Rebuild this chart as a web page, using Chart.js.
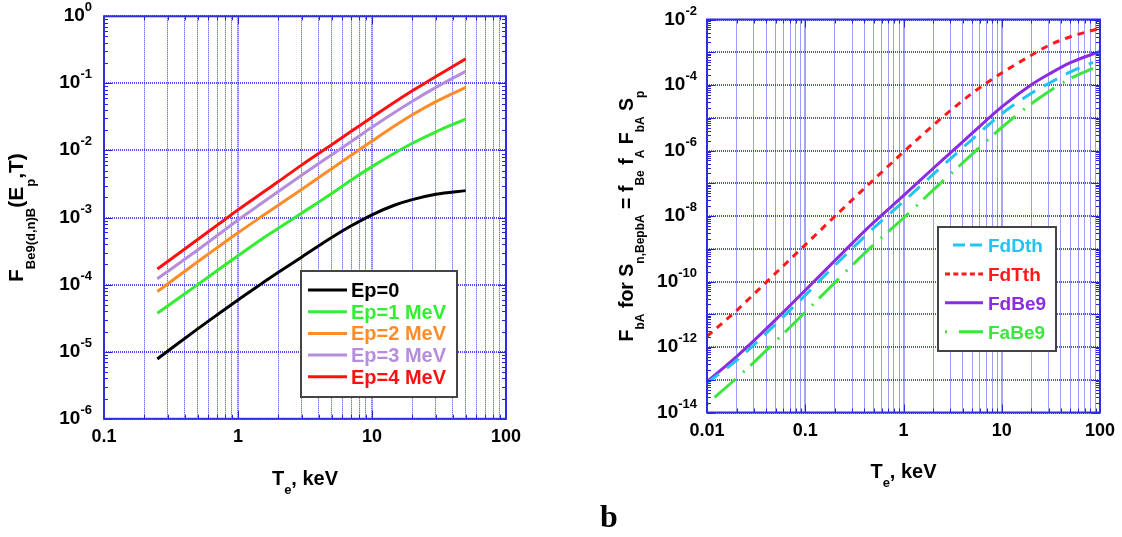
<!DOCTYPE html>
<html><head><meta charset="utf-8">
<script src="https://cdn.jsdelivr.net/npm/chart.js@4.4.1/dist/chart.umd.min.js"></script>
<style>
html,body{margin:0;padding:0;background:#fff;overflow:hidden;width:1122px;height:537px}
#wrapA{position:absolute;left:0;top:0;width:561px;height:537px}
#wrapB{position:absolute;left:561px;top:0;width:561px;height:537px}
</style></head><body>
<div id="wrapA"><canvas id="cA" width="561" height="537"></canvas></div>
<div id="wrapB"><canvas id="cB" width="561" height="537"></canvas></div>
<script>
// ---------- LEFT CHART DATA ----------
const leftTemps = [0.25, 0.3, 0.5, 0.7, 1, 1.5, 2, 3, 5, 7, 10, 15, 20, 30, 50];
const ep0 = [7.8e-6, 1.026e-5, 2.19e-5, 3.56e-5, 5.92e-5, 1.035e-4, 1.53e-4, 2.59e-4, 5.04e-4, 7.53e-4, 1.10e-3, 1.55e-3, 1.85e-3, 2.22e-3, 2.52e-3];
const ep1 = [3.75e-5, 4.85e-5, 1.0e-4, 1.62e-4, 2.69e-4, 4.76e-4, 6.9e-4, 1.17e-3, 2.29e-3, 3.63e-3, 5.74e-3, 9.33e-3, 1.28e-2, 1.9e-2, 2.94e-2];
const ep2 = [7.9e-5, 1.03e-4, 2.19e-4, 3.56e-4, 5.92e-4, 1.035e-3, 1.53e-3, 2.65e-3, 5.35e-3, 8.5e-3, 1.38e-2, 2.37e-2, 3.4e-2, 5.35e-2, 8.7e-2];
const ep3 = [1.22e-4, 1.58e-4, 3.29e-4, 5.4e-4, 9.2e-4, 1.63e-3, 2.44e-3, 4.3e-3, 8.6e-3, 1.36e-2, 2.22e-2, 3.78e-2, 5.42e-2, 8.71e-2, 0.151];
const ep4 = [1.71e-4, 2.23e-4, 4.7e-4, 7.7e-4, 1.3e-3, 2.3e-3, 3.44e-3, 6.1e-3, 1.22e-2, 1.93e-2, 3.13e-2, 5.37e-2, 7.74e-2, 0.127, 0.232];
const leftLabels = ['Ep=0', 'Ep=1 MeV', 'Ep=2 MeV', 'Ep=3 MeV', 'Ep=4 MeV'];
const leftXTickValues = [0.1, 1, 10, 100];
const leftXTickLabels = ['0.1', '1', '10', '100'];
const leftYTickValues = [1, 1e-1, 1e-2, 1e-3, 1e-4, 1e-5, 1e-6];
const leftYTickExps = ['0', '-1', '-2', '-3', '-4', '-5', '-6'];

// ---------- RIGHT CHART DATA ----------
const rightTemps = [0.01, 0.02, 0.03, 0.05, 0.1, 0.2, 0.3, 0.5, 1, 2, 3, 5, 10, 20, 30, 50, 100];
const fdTth = [2.1e-12, 1.3e-11, 4.13e-11, 1.8e-10, 1.32e-9, 9.75e-9, 3.1e-8, 1.31e-7, 9.0e-7, 5.86e-6, 1.65e-5, 5.62e-5, 2.33e-4, 8.1e-4, 1.61e-3, 2.98e-3, 5.37e-3];
const fdBe9 = [8.7e-14, 5.1e-13, 1.56e-12, 6.85e-12, 5.41e-11, 4.33e-10, 1.46e-9, 6.46e-9, 4.17e-8, 2.82e-7, 8.41e-7, 3.39e-6, 2.15e-5, 1.02e-4, 2.12e-4, 4.8e-4, 1.064e-3];
const shortTemps = [0.01, 0.02, 0.03, 0.05, 0.1, 0.2, 0.3, 0.5, 1, 2, 3, 5, 10, 20, 30, 50, 85];
const fdDth = [7.9e-14, 3.9e-13, 1.15e-12, 5.0e-12, 3.8e-11, 3.09e-10, 1.01e-9, 4.37e-9, 2.75e-8, 1.86e-7, 5.56e-7, 2.19e-6, 1.32e-5, 5.61e-5, 1.11e-4, 2.52e-4, 4.9e-4];
const faBe9 = [1.82e-14, 1.12e-13, 3.4e-13, 1.5e-12, 1.16e-11, 9.25e-11, 3.12e-10, 1.35e-9, 8.7e-9, 6.17e-8, 1.88e-7, 7.76e-7, 5.04e-6, 2.69e-5, 6.25e-5, 1.59e-4, 3.21e-4];
const rightLabels = ['FdDth', 'FdTth', 'FdBe9', 'FaBe9'];
const rightXTickValues = [0.01, 0.1, 1, 10, 100];
const rightXTickLabels = ['0.01', '0.1', '1', '10', '100'];
const rightYTickValues = [1e-2, 1e-4, 1e-6, 1e-8, 1e-10, 1e-12, 1e-14];
const rightYTickExps = ['-2', '-4', '-6', '-8', '-10', '-12', '-14'];

// ---------- helpers ----------
const FAM = '"Liberation Sans", Arial, sans-serif';
function isMajor(v) { const l = Math.log10(v); return Math.abs(l - Math.round(l)) < 1e-6; }
function makeLogTicks(min, max) {
  const out = [];
  for (let e = Math.floor(Math.log10(min)); e <= Math.ceil(Math.log10(max)); e++) {
    for (let m = 1; m <= 9; m++) {
      const v = m * Math.pow(10, e);
      if (v >= min * (1 - 1e-9) && v <= max * (1 + 1e-9)) out.push({ value: v, major: m === 1 });
    }
  }
  return out;
}
function pts(xs, ys) { return xs.map((x, i) => ({ x: x, y: ys[i] })); }
function logAxis(min, max, pos, isY) {
  return {
    type: 'logarithmic', position: pos, min: min, max: max,
    ticks: { display: false },
    border: { display: false, dash: [1, 1] },
    grid: {
      drawTicks: false, tickLength: 0,
      color: c => {
        if (!c.tick) return 'rgba(0,0,0,0)';
        const m = isMajor(c.tick.value);
        if (isY && !m) return 'rgba(0,0,0,0)';
        return m ? 'rgba(30,30,245,0.8)' : 'rgba(10,10,235,0.8)';
      },
      lineWidth: c => (c.tick && isMajor(c.tick.value)) ? 2 : 1
    },
    afterBuildTicks: s => { s.ticks = makeLogTicks(min, max); },
    afterFit: s => { if (isY) s.width = 0; else s.height = 0; }
  };
}
function drawRich(ctx, runs, x, y, opts) {
  const widths = runs.map(r => { ctx.font = 'bold ' + r.size + 'px ' + FAM; return ctx.measureText(r.t).width; });
  const total = widths.reduce((a, b) => a + b, 0);
  let cx = opts.align === 'center' ? -total / 2 : opts.align === 'right' ? -total : 0;
  ctx.save();
  ctx.translate(x, y);
  if (opts.rotate) ctx.rotate(-Math.PI / 2);
  ctx.fillStyle = opts.color || '#000';
  ctx.textBaseline = 'alphabetic';
  ctx.textAlign = 'left';
  runs.forEach((r, i) => {
    ctx.font = 'bold ' + r.size + 'px ' + FAM;
    ctx.fillText(r.t, cx, r.dy || 0);
    cx += widths[i];
  });
  ctx.restore();
}

const decoPlugin = {
  id: 'deco',
  afterDraw(chart) {
    const o = chart.options.plugins.deco;
    const ctx = chart.ctx, a = chart.chartArea, xs = chart.scales.x, ys = chart.scales.y;
    ctx.save();
    // inner tick marks
    ctx.strokeStyle = '#2424dc'; ctx.lineWidth = 1;
    ctx.beginPath();
    xs.ticks.forEach(t => {
      const p = Math.round(xs.getPixelForValue(t.value)) + 0.5;
      const L = isMajor(t.value) ? 8 : 4;
      ctx.moveTo(p, a.top); ctx.lineTo(p, a.top + L);
      ctx.moveTo(p, a.bottom); ctx.lineTo(p, a.bottom - L);
    });
    ys.ticks.forEach(t => {
      const p = Math.round(ys.getPixelForValue(t.value)) + 0.5;
      const L = isMajor(t.value) ? 8 : 4;
      ctx.moveTo(a.left, p); ctx.lineTo(a.left + L, p);
      ctx.moveTo(a.right, p); ctx.lineTo(a.right - L, p);
    });
    ctx.stroke();
    // frame
    ctx.strokeStyle = '#2e2ee0'; ctx.lineWidth = 2;
    ctx.strokeRect(a.left, a.top, a.right - a.left, a.bottom - a.top);
    // x tick labels
    o.xTickValues.forEach((v, i) => {
      drawRich(ctx, [{ t: o.xTickLabels[i], size: 18 }], xs.getPixelForValue(v), a.bottom + o.xLabelDy, { align: 'center' });
    });
    // y tick labels
    o.yTickValues.forEach((v, i) => {
      const p = ys.getPixelForValue(v);
      drawRich(ctx, [{ t: '10', size: 19 }, { t: o.yTickExps[i], size: 13, dy: -10 }], a.left - o.yLabelGap, p + 5, { align: 'right' });
    });
    // x title
    drawRich(ctx, [{ t: 'T', size: 20 }, { t: 'e', size: 13, dy: 9 }, { t: ', keV', size: 20 }],
      (a.left + a.right) / 2, a.bottom + o.xTitleDy, { align: 'center' });
    // y title
    drawRich(ctx, o.yTitleRuns, o.yTitleX, (a.top + a.bottom) / 2, { align: 'center', rotate: true });
    // legend
    const L = o.legend;
    ctx.fillStyle = '#fff';
    ctx.fillRect(L.x, L.y, L.w, L.h);
    ctx.strokeStyle = '#444'; ctx.lineWidth = 2;
    ctx.strokeRect(L.x, L.y, L.w, L.h);
    chart.data.datasets.forEach((ds, i) => {
      const ry = L.rowY + i * L.rowStep;
      ctx.save();
      ctx.strokeStyle = ds.borderColor; ctx.lineWidth = ds.borderWidth;
      ctx.setLineDash(ds.legendDash || ds.borderDash || []);
      ctx.beginPath(); ctx.moveTo(L.s0, ry); ctx.lineTo(L.s1, ry); ctx.stroke();
      ctx.restore();
      drawRich(ctx, [{ t: ds.label, size: L.font }], L.tx, ry + 7, { align: 'left', color: ds.borderColor });
    });
    // extra text
    if (o.extra) {
      ctx.fillStyle = '#000';
      ctx.font = 'bold 32px "Liberation Serif", "Times New Roman", serif';
      ctx.textAlign = 'left'; ctx.textBaseline = 'alphabetic';
      ctx.fillText(o.extra.t, o.extra.x, o.extra.y);
    }
    ctx.restore();
  }
};

function lineDs(label, data, color, extra) {
  return Object.assign({
    label: label, data: data, borderColor: color, backgroundColor: color,
    borderWidth: 3, pointRadius: 0, fill: false, cubicInterpolationMode: 'monotone', borderCapStyle: 'butt'
  }, extra || {});
}

// ---------- LEFT CHART ----------
new Chart(document.getElementById('cA'), {
  type: 'line',
  data: {
    datasets: [
      lineDs(leftLabels[0], pts(leftTemps, ep0), '#000000'),
      lineDs(leftLabels[1], pts(leftTemps, ep1), '#33ee33'),
      lineDs(leftLabels[2], pts(leftTemps, ep2), '#ff8c26'),
      lineDs(leftLabels[3], pts(leftTemps, ep3), '#b68ddd'),
      lineDs(leftLabels[4], pts(leftTemps, ep4), '#ff1010')
    ]
  },
  options: {
    responsive: false, animation: false, devicePixelRatio: 1,
    layout: { padding: { left: 104, right: 55, top: 16.3, bottom: 118.2 } },
    scales: { x: logAxis(0.1, 100, 'bottom', false), y: logAxis(1e-6, 1, 'left', true) },
    plugins: {
      legend: { display: false }, tooltip: { enabled: false },
      deco: {
        xTickValues: leftXTickValues, xTickLabels: leftXTickLabels,
        yTickValues: leftYTickValues, yTickExps: leftYTickExps,
        xLabelDy: 23, yLabelGap: 12, xTitleDy: 66,
        yTitleX: 23,
        yTitleRuns: [{ t: 'F', size: 21 }, { t: 'Be9(d,n)B', size: 13, dy: 12 }, { t: '(E', size: 21 },
                     { t: 'p', size: 13, dy: 12 }, { t: ',T)', size: 21 }],
        legend: { x: 301, y: 271, w: 156, h: 126, s0: 308, s1: 347, tx: 351, rowY: 290, rowStep: 21.7, font: 20 }
      }
    }
  },
  plugins: [decoPlugin]
});

// ---------- RIGHT CHART ----------
new Chart(document.getElementById('cB'), {
  type: 'line',
  data: {
    datasets: [
      lineDs(rightLabels[0], pts(shortTemps, fdDth), '#22c4f2', { borderDash: [15, 10], legendDash: [0, 8, 12, 5, 12, 100] }),
      lineDs(rightLabels[1], pts(rightTemps, fdTth), '#ff1a1a', { borderDash: [7, 6], legendDash: [5, 3.3] }),
      lineDs(rightLabels[2], pts(rightTemps, fdBe9), '#8b2be2'),
      lineDs(rightLabels[3], pts(shortTemps, faBe9), '#3ce63c', { borderDash: [2, 8, 28, 10], legendDash: [2, 12, 24, 100] })
    ]
  },
  options: {
    responsive: false, animation: false, devicePixelRatio: 1,
    layout: { padding: { left: 146, right: 22, top: 19.5, bottom: 124.5 } },
    scales: { x: logAxis(0.01, 100, 'bottom', false), y: logAxis(1e-14, 1e-2, 'left', true) },
    plugins: {
      legend: { display: false }, tooltip: { enabled: false },
      deco: {
        xTickValues: rightXTickValues, xTickLabels: rightXTickLabels,
        yTickValues: rightYTickValues, yTickExps: rightYTickExps,
        xLabelDy: 23, yLabelGap: 10, xTitleDy: 65,
        yTitleX: 72,
        yTitleRuns: [{ t: 'F', size: 19.5 }, { t: 'bA', size: 12, dy: 11 }, { t: ' for S', size: 19.5 },
                     { t: 'n,BepbA', size: 12, dy: 11 }, { t: ' = f', size: 19.5 }, { t: 'Be', size: 12, dy: 11 },
                     { t: ' f', size: 19.5 }, { t: 'A', size: 12, dy: 11 }, { t: ' F', size: 19.5 },
                     { t: 'bA', size: 12, dy: 11 }, { t: ' S', size: 19.5 }, { t: 'p', size: 12, dy: 11 }],
        legend: { x: 377, y: 227, w: 118, h: 124, s0: 384, s1: 422, tx: 427, rowY: 245, rowStep: 28.9, font: 19 },
        extra: { t: 'b', x: 39, y: 527 }
      }
    }
  },
  plugins: [decoPlugin]
});
</script>
</body></html>
